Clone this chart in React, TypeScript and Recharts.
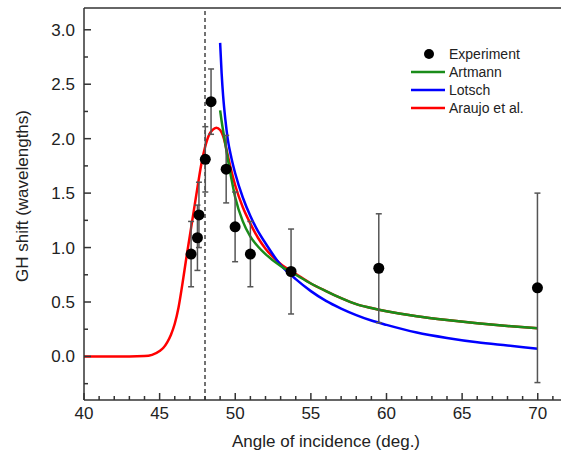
import { ComposedChart, Line, Scatter, ErrorBar, XAxis, YAxis, ReferenceLine, Legend } from 'recharts';

// experiment: angle (deg), GH shift (wavelengths), error
const expAngle = [47.08, 47.5, 47.6, 48.02, 48.4, 49.4, 49.99, 51.0, 53.69, 59.49, 69.98];
const expShift = [0.94, 1.09, 1.3, 1.81, 2.34, 1.72, 1.19, 0.94, 0.78, 0.81, 0.63];
const expError = [0.3, 0.3, 0.3, 0.3, 0.3, 0.31, 0.32, 0.3, 0.39, 0.5, 0.87];

// theory curves
const artmannAngle = [49, 49.1, 49.25, 49.5, 49.75, 50, 50.5, 51, 51.5, 52, 53, 54, 55, 56, 57, 58, 59, 60, 62, 64, 66, 68, 70];
const artmannShift = [2.26, 2.16, 2.03, 1.82, 1.63, 1.46, 1.24, 1.1, 1.01, 0.94, 0.83, 0.75, 0.67, 0.6, 0.535, 0.48, 0.445, 0.415, 0.37, 0.335, 0.305, 0.28, 0.26];

const lotschAngle = [49, 49.1, 49.2, 49.35, 49.5, 49.75, 50, 50.5, 51, 51.5, 52, 53, 54, 55, 56, 57, 58, 59, 60, 62, 64, 66, 68, 70];
const lotschShift = [2.88, 2.6, 2.39, 2.17, 2.0, 1.82, 1.68, 1.46, 1.29, 1.15, 1.04, 0.84, 0.71, 0.6, 0.51, 0.44, 0.38, 0.33, 0.29, 0.22, 0.17, 0.13, 0.1, 0.07];

const araujoAngle = [40, 41, 42, 43, 44, 44.5, 45, 45.25, 45.5, 45.75, 46, 46.25, 46.5, 46.75, 47, 47.25, 47.5, 47.75, 48, 48.25, 48.5, 48.75, 49, 49.25, 49.5, 49.75, 50, 50.5, 51, 51.5, 52, 53, 54, 55, 56, 57, 58, 59, 60, 62, 64, 66, 68, 70];
const araujoShift = [0, 0, 0, 0, 0.003, 0.015, 0.05, 0.08, 0.13, 0.2, 0.3, 0.45, 0.66, 0.89, 1.11, 1.33, 1.55, 1.76, 1.92, 2.03, 2.08, 2.1, 2.08, 2.0, 1.85, 1.7, 1.57, 1.37, 1.22, 1.09, 0.99, 0.85, 0.76, 0.67, 0.6, 0.535, 0.48, 0.445, 0.415, 0.37, 0.335, 0.305, 0.28, 0.26];

const xTicks = [40, 41, 42, 43, 44, 45, 46, 47, 48, 49, 50, 51, 52, 53, 54, 55, 56, 57, 58, 59, 60, 61, 62, 63, 64, 65, 66, 67, 68, 69, 70, 71];
const yTicks = [-0.25, 0, 0.25, 0.5, 0.75, 1, 1.25, 1.5, 1.75, 2, 2.25, 2.5, 2.75, 3];
const criticalAngle = 48;

const GREEN = '#1a8c1a';
const BLUE = '#0000ff';
const RED = '#ff0000';
const AXIS = '#333';
const FONT = '"Liberation Sans", Arial, sans-serif';

const legendItems = [
  { name: 'Experiment', color: '#000', dot: true },
  { name: 'Artmann', color: GREEN, dot: false },
  { name: 'Lotsch', color: BLUE, dot: false },
  { name: 'Araujo et al.', color: RED, dot: false }
];

const toPoints = (xs: number[], ys: number[]) => xs.map((x, i) => ({ x, y: ys[i] }));

const expData = expAngle.map((x, i) => ({ x, y: expShift[i], err: expError[i] }));
const artmannData = toPoints(artmannAngle, artmannShift);
const lotschData = toPoints(lotschAngle, lotschShift);
const araujoData = toPoints(araujoAngle, araujoShift);

const XTick = ({ x, y, payload }: any) => {
  const major = payload.value % 5 === 0;
  return (
    <g>
      <line x1={x} x2={x} y1={y} y2={y - (major ? 7 : 4)} stroke={AXIS} strokeWidth={1.5} />
      {major && (
        <text x={x} y={y + 19} textAnchor="middle" fontSize={17} fill="#222" fontFamily={FONT}>
          {payload.value}
        </text>
      )}
    </g>
  );
};

const YTick = ({ x, y, payload }: any) => {
  const v = payload.value;
  const major = Math.abs(v * 2 - Math.round(v * 2)) < 1e-6;
  return (
    <g>
      <line x1={x} x2={x + (major ? 7 : 4)} y1={y} y2={y} stroke={AXIS} strokeWidth={1.5} />
      {major && (
        <text x={x - 9} y={y} dy="0.35em" textAnchor="end" fontSize={17} fill="#222" fontFamily={FONT}>
          {v.toFixed(1)}
        </text>
      )}
    </g>
  );
};

const Dot = (props: any) => <circle cx={props.cx} cy={props.cy} r={5.5} fill="#000" />;

const renderLegend = () => (
  <div style={{ fontFamily: FONT, fontSize: 14, color: '#222' }}>
    {legendItems.map(item => (
      <div key={item.name} style={{ display: 'flex', alignItems: 'center', height: 18 }}>
        <svg width={36} height={18}>
          {item.dot
            ? <circle cx={19} cy={9} r={5} fill={item.color} />
            : <line x1={1} x2={35} y1={9} y2={9} stroke={item.color} strokeWidth={2.5} />}
        </svg>
        <span style={{ marginLeft: 3 }}>{item.name}</span>
      </div>
    ))}
  </div>
);

export default function App() {
  return (
    <div style={{ position: 'absolute', left: 0, top: 0, width: 561, height: 458, overflow: 'hidden', background: '#fff' }}>
      <ComposedChart width={580} height={458} margin={{ top: 8, right: 12, bottom: 18, left: 34 }}>
        <XAxis
          type="number"
          dataKey="x"
          domain={[40, 72]}
          ticks={xTicks}
          interval={0}
          tickSize={0}
          tickMargin={0}
          tick={<XTick />}
          height={40}
          axisLine={{ stroke: AXIS, strokeWidth: 1.5 }}
          allowDataOverflow
          label={{
            content: (p: any) => (
              <text
                x={p.viewBox.x + p.viewBox.width / 2}
                y={447}
                textAnchor="middle"
                fontSize={17}
                fill="#222"
                fontFamily={FONT}
              >
                Angle of incidence (deg.)
              </text>
            )
          }}
        />
        <YAxis
          type="number"
          dataKey="y"
          domain={[-0.4, 3.2]}
          ticks={yTicks}
          interval={0}
          tickSize={0}
          tickMargin={0}
          tick={<YTick />}
          width={50}
          axisLine={{ stroke: AXIS, strokeWidth: 1.5 }}
          allowDataOverflow
          label={{
            content: () => (
              <text
                x={22}
                y={196}
                transform="rotate(-90, 22, 196)"
                textAnchor="middle"
                dy="0.35em"
                fontSize={17}
                fill="#222"
                fontFamily={FONT}
              >
                GH shift (wavelengths)
              </text>
            )
          }}
        />
        <ReferenceLine y={3.2} stroke={AXIS} strokeWidth={1.5} />
        <ReferenceLine x={criticalAngle} stroke="#444" strokeWidth={1.5} strokeDasharray="4 3" />
        <Line data={araujoData} dataKey="y" type="monotone" stroke={RED} strokeWidth={2.5} dot={false} isAnimationActive={false} />
        <Line data={lotschData} dataKey="y" type="monotone" stroke={BLUE} strokeWidth={2.5} dot={false} isAnimationActive={false} />
        <Line data={artmannData} dataKey="y" type="monotone" stroke={GREEN} strokeWidth={2.5} dot={false} isAnimationActive={false} />
        <Scatter data={expData} dataKey="y" shape={<Dot />} isAnimationActive={false}>
          <ErrorBar dataKey="err" direction="y" width={3} stroke="#555" strokeWidth={1.5} />
        </Scatter>
        <Legend
          layout="vertical"
          align="center"
          verticalAlign="middle"
          content={renderLegend}
          wrapperStyle={{ position: 'absolute', left: 410, top: 45, width: 150 }}
        />
      </ComposedChart>
    </div>
  );
}
